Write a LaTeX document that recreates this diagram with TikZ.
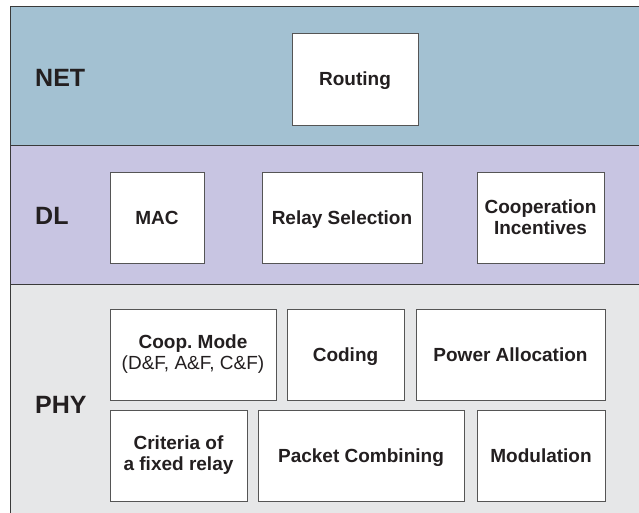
\documentclass[tikz,border=0pt]{standalone}
\usepackage{fontspec}
\setmainfont{Liberation Sans}
\begin{document}
\frenchspacing
\begin{tikzpicture}[x=1pt,y=-1pt,
  box/.style={draw=boxline, fill=white, line width=0.9pt, align=center,
    inner sep=0pt, text=ink, font=\bfseries\fontsize{19}{21}\selectfont},
  oneline/.style={text depth=0pt},
  layer/.style={anchor=west, inner sep=0pt, text=ink,
    font=\bfseries\fontsize{25}{28}\selectfont}]
\definecolor{netfill}{HTML}{A3C1D2}
\definecolor{dlfill}{HTML}{C8C5E2}
\definecolor{phyfill}{HTML}{E6E7E8}
\definecolor{boxline}{HTML}{555555}
\definecolor{bandline}{HTML}{3A3A3A}
\definecolor{ink}{HTML}{231F20}
\useasboundingbox (0,0) rectangle (639,513);
\fill[white] (0,0) rectangle (639,513);
% layer bands
\fill[netfill] (10,7) rectangle (639,146);
\fill[dlfill]  (10,146) rectangle (639,284);
\fill[phyfill] (10,284) rectangle (639,513);
\draw[bandline, line width=1pt] (639,7) -- (10,7) -- (10,513);
\draw[bandline, line width=1pt] (10,146) -- (639,146);
\draw[bandline, line width=1pt] (10,284) -- (639,284);
% layer names
\node[layer] (net) at (35,78) {NET};
\node[layer] (dl)  at (35,216) {DL};
\node[layer] (phy) at (35,405) {PHY};
% network layer
\node[box, oneline, minimum width=126, minimum height=92] (routing) at (355,79) {Routing};
% data link layer
\node[box, oneline, minimum width=94,  minimum height=91] (mac)   at (157,217.5) {MAC};
\node[box, oneline, minimum width=160, minimum height=91] (relay) at (342,217.5) {Relay Selection};
\node[box, minimum width=127, minimum height=91] (incent) at (540.5,217.5) {Cooperation\\Incentives};
% physical layer
\node[box, minimum width=166, minimum height=91] (mode)   at (193,354.5) {Coop. Mode\\{\mdseries (D\&F, A\&F, C\&F)}};
\node[box, oneline, minimum width=117, minimum height=91] (coding) at (345.5,354.5) {Coding};
\node[box, oneline, minimum width=189, minimum height=91] (power)  at (510.5,354.5) {Power Allocation};
\node[box, minimum width=137, minimum height=91] (crit)   at (178.5,455.5) {Criteria of\\a fixed relay};
\node[box, oneline, minimum width=206, minimum height=91] (packet) at (361,455.5) {Packet Combining};
\node[box, oneline, minimum width=128, minimum height=91] (modul)  at (541,455.5) {Modulation};
\end{tikzpicture}
\end{document}
